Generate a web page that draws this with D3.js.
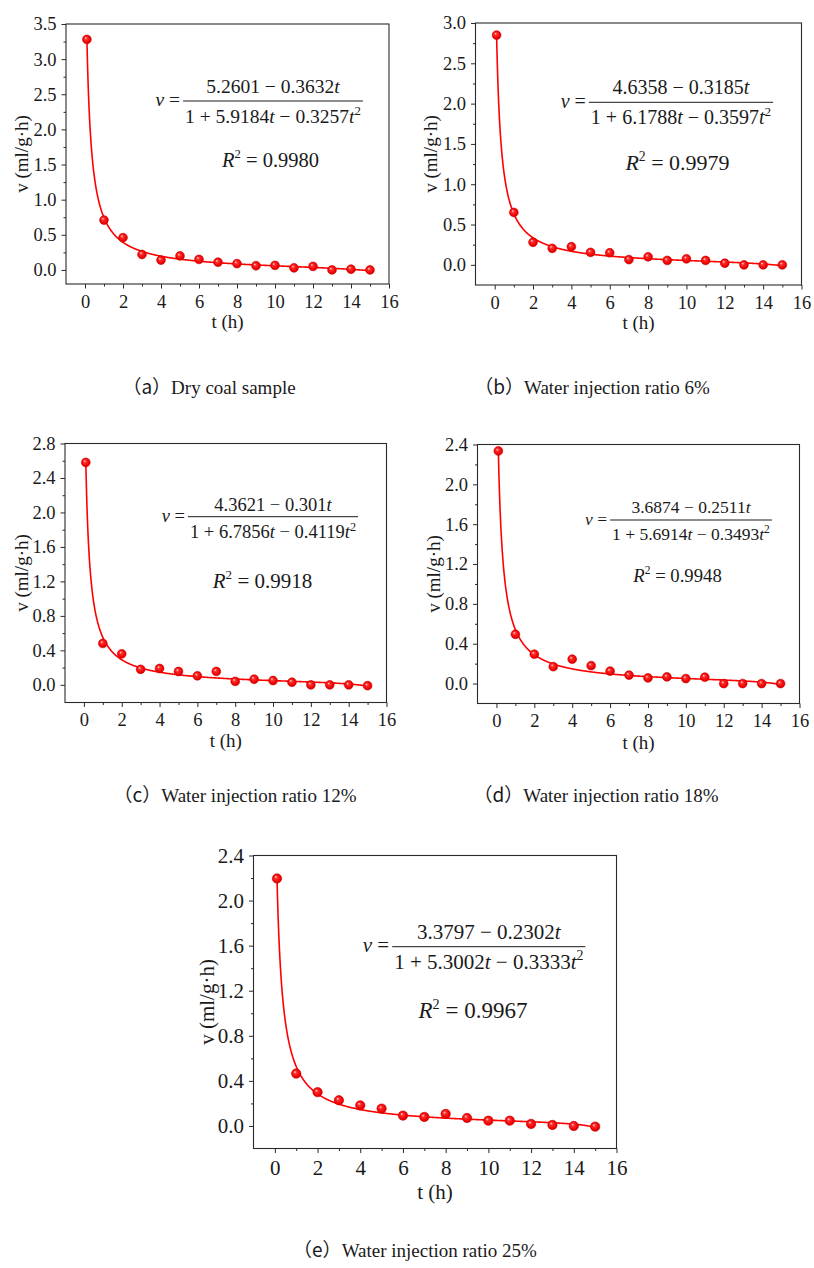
<!DOCTYPE html>
<html>
<head>
<meta charset="utf-8">
<script src="https://cdn.jsdelivr.net/npm/d3@7"></script>
<style>
  body { margin: 0; background: #fff; }
  svg text { font-family: 'Liberation Serif', 'Times New Roman', Times, serif; fill: #1a1a1a; }
  .cjk { font-family: 'Noto Sans CJK SC', sans-serif; }
</style>
</head>
<body>
<svg id="chart" width="814" height="1268"></svg>
<script>
// Sampling times (h)
const hours = [0.1, 1, 2, 3, 4, 5, 6, 7, 8, 9, 10, 11, 12, 13, 14, 15];

// Measured gas release rate v (ml/g·h)
const vDry = [3.28, 0.71, 0.46, 0.22, 0.14, 0.20, 0.15, 0.11, 0.09, 0.06, 0.065, 0.03, 0.05, 0.0, 0.01, 0.0];
const v6   = [2.85, 0.65, 0.28, 0.205, 0.225, 0.155, 0.15, 0.065, 0.10, 0.055, 0.075, 0.055, 0.02, 0.0, 0.0, 0.0];
const v12  = [2.58, 0.48, 0.36, 0.18, 0.19, 0.155, 0.105, 0.155, 0.04, 0.065, 0.05, 0.03, 0.0, 0.0, 0.0, -0.01];
const v18  = [2.335, 0.495, 0.295, 0.17, 0.245, 0.18, 0.125, 0.085, 0.057, 0.067, 0.05, 0.064, 0.0, 0.0, 0.0, 0.0];
const v25  = [2.196, 0.465, 0.30, 0.228, 0.183, 0.154, 0.092, 0.08, 0.107, 0.071, 0.047, 0.047, 0.018, 0.009, 0.0, -0.006];

// Fitted model v = (a - b t) / (1 + c t - d t^2): [a, b, c, d]
const fitDry = [5.2601, 0.3632, 5.9184, 0.3257];
const fit6   = [4.6358, 0.3185, 6.1788, 0.3597];
const fit12  = [4.3621, 0.301, 6.7856, 0.4119];
const fit18  = [3.6874, 0.2511, 5.6914, 0.3493];
const fit25  = [3.3797, 0.2302, 5.3002, 0.3333];

const r2Values = ["0.9980", "0.9979", "0.9918", "0.9948", "0.9967"];

const captions = [
  "（a）Dry coal sample",
  "（b）Water injection ratio 6%",
  "（c）Water injection ratio 12%",
  "（d）Water injection ratio 18%",
  "（e）Water injection ratio 25%"
];

const xTicks = [0, 2, 4, 6, 8, 10, 12, 14, 16];
const xMinor = [1, 3, 5, 7, 9, 11, 13, 15];
const xLabel = "t (h)";
const yLabel = "v (ml/g·h)";

// Panel layout
const panels = [
  { values: vDry, fit: fitDry, r2: r2Values[0], caption: captions[0],
    left: 66, top: 24, right: 389, bottom: 284, yMin: -0.2, yMax: 3.5, step: 0.5,
    tickFs: 18.5, titleFs: 19, yTitleX: -38, xTickDy: 24, xTitleDy: 44,
    eq: { cx: 207, by: 77, fs: 19.5, gn: 8, gd: 21.7, rcx: 204.5, rby: 142.7, rfs: 20.5 },
    cap: { x: 209, y: 394 }, r: 4.4 },
  { values: v6, fit: fit6, r2: r2Values[1], caption: captions[1],
    left: 475.5, top: 23, right: 801.5, bottom: 285, yMin: -0.25, yMax: 3.0, step: 0.5,
    tickFs: 18.5, titleFs: 19, yTitleX: -38.5, xTickDy: 24, xTitleDy: 44,
    eq: { cx: 205.5, by: 79.3, fs: 20, gn: 8, gd: 21.7, rcx: 202, rby: 147, rfs: 22 },
    cap: { x: 592, y: 394 }, r: 4.4 },
  { values: v12, fit: fit12, r2: r2Values[2], caption: captions[2],
    left: 65, top: 443.5, right: 386.5, bottom: 702.5, yMin: -0.205, yMax: 2.8, step: 0.4,
    tickFs: 18.5, titleFs: 19, yTitleX: -37, xTickDy: 23, xTitleDy: 44,
    eq: { cx: 208, by: 73.2, fs: 18.5, gn: 6, gd: 21.6, rcx: 197.5, rby: 144.8, rfs: 21 },
    cap: { x: 235, y: 802 }, r: 4.4 },
  { values: v18, fit: fit18, r2: r2Values[3], caption: captions[3],
    left: 477.5, top: 444.5, right: 799.5, bottom: 703.5, yMin: -0.2, yMax: 2.4, step: 0.4,
    tickFs: 18.5, titleFs: 19, yTitleX: -37.5, xTickDy: 23.5, xTitleDy: 45,
    eq: { cx: 213.5, by: 75.5, fs: 17.5, gn: 6.7, gd: 20, rcx: 200, rby: 137.2, rfs: 18.7 },
    cap: { x: 596, y: 802 }, r: 4.4 },
  { values: v25, fit: fit25, r2: r2Values[4], caption: captions[4],
    left: 253.5, top: 855.5, right: 616.5, bottom: 1148.5, yMin: -0.2, yMax: 2.4, step: 0.4,
    tickFs: 21, titleFs: 21, yTitleX: -40, xTickDy: 26, xTitleDy: 50,
    eq: { cx: 235.3, by: 91.2, fs: 21, gn: 7.4, gd: 22.6, rcx: 219.5, rby: 162.8, rfs: 23 },
    cap: { x: 415, y: 1257 }, r: 4.7 }
];

const serif = "'Liberation Serif', 'Times New Roman', Times, serif";
const svg = d3.select("#chart");
const defs = svg.append("defs");

// Shaded sphere marker fill
const grad = defs.append("radialGradient").attr("id", "ball")
  .attr("cx", "50%").attr("cy", "50%").attr("r", "55%")
  .attr("fx", "35%").attr("fy", "32%");
grad.append("stop").attr("offset", "0%").attr("stop-color", "#ffe2e2");
grad.append("stop").attr("offset", "28%").attr("stop-color", "#ff3030");
grad.append("stop").attr("offset", "75%").attr("stop-color", "#f00000");
grad.append("stop").attr("offset", "100%").attr("stop-color", "#b80000");

const model = (f, t) => (f[0] - f[1] * t) / (1 + f[2] * t - f[3] * t * t);

function drawEquation(g, p) {
  const e = p.eq, f = p.fit;
  const fs = e.fs;

  const num = g.append("text").attr("x", e.cx).attr("y", e.by - e.gn)
    .attr("text-anchor", "middle").style("font-size", fs + "px");
  num.append("tspan").text(`${f[0]} − ${f[1]}`);
  num.append("tspan").style("font-style", "italic").text("t");

  const den = g.append("text").attr("x", e.cx).attr("y", e.by + e.gd)
    .attr("text-anchor", "middle").style("font-size", fs + "px");
  den.append("tspan").text(`1 + ${f[2]}`);
  den.append("tspan").style("font-style", "italic").text("t");
  den.append("tspan").text(` − ${f[3]}`);
  den.append("tspan").style("font-style", "italic").text("t");
  den.append("tspan").attr("dy", -fs * 0.42).style("font-size", (fs * 0.66) + "px").text("2");

  const w = Math.max(num.node().getComputedTextLength(), den.node().getComputedTextLength()) + 4;
  g.append("line")
    .attr("x1", e.cx - w / 2).attr("x2", e.cx + w / 2)
    .attr("y1", e.by).attr("y2", e.by)
    .attr("stroke", "#1a1a1a").attr("stroke-width", 1);

  const lhs = g.append("text").attr("x", e.cx - w / 2 - 3).attr("y", e.by + fs * 0.27)
    .attr("text-anchor", "end").style("font-size", fs + "px");
  lhs.append("tspan").style("font-style", "italic").text("v");
  lhs.append("tspan").text(" =");

  const r2 = g.append("text").attr("x", e.rcx).attr("y", e.rby)
    .attr("text-anchor", "middle").style("font-size", e.rfs + "px");
  r2.append("tspan").style("font-style", "italic").text("R");
  r2.append("tspan").attr("dy", -e.rfs * 0.42).style("font-size", (e.rfs * 0.62) + "px").text("2");
  r2.append("tspan").attr("dy", e.rfs * 0.42).text(" = " + p.r2);
}

panels.forEach((p, i) => {
  const W = p.right - p.left, H = p.bottom - p.top;
  const g = svg.append("g").attr("transform", `translate(${p.left},${p.top})`);

  const x = d3.scaleLinear().domain([-1, 16]).range([0, W]);
  const y = d3.scaleLinear().domain([p.yMin, p.yMax]).range([H, 0]);

  const nMaj = Math.round(p.yMax / p.step);
  const yMajor = d3.range(0, nMaj + 1).map(k => +(k * p.step).toFixed(3));
  const yMinorT = d3.range(0, nMaj).map(k => +((k + 0.5) * p.step).toFixed(3));

  // axes (ticks outward)
  const yAx = g.append("g").call(d3.axisLeft(y).tickValues(yMajor).tickSize(4.5).tickPadding(5)
    .tickFormat(d3.format(".1f")));
  const yAxm = g.append("g").call(d3.axisLeft(y).tickValues(yMinorT).tickSize(2.5).tickFormat(""));
  const xAx = g.append("g").attr("transform", `translate(0,${H})`)
    .call(d3.axisBottom(x).tickValues(xTicks).tickSize(4.5).tickFormat(d3.format("d")));
  const xAxm = g.append("g").attr("transform", `translate(0,${H})`)
    .call(d3.axisBottom(x).tickValues(xMinor).tickSize(2.5).tickFormat(""));
  [yAx, yAxm, xAx, xAxm].forEach(a => {
    a.attr("font-family", null);
    a.select(".domain").remove();
    a.selectAll(".tick line").attr("stroke", "#2a2a2a").attr("stroke-width", 1);
    a.selectAll("text").style("font-size", p.tickFs + "px").attr("fill", "#1a1a1a")
      .style("font-family", serif);
  });
  xAx.selectAll("text").attr("dy", null).attr("y", p.xTickDy);

  // frame
  g.append("rect").attr("x", 0).attr("y", 0).attr("width", W).attr("height", H)
    .attr("fill", "none").attr("stroke", "#2a2a2a").attr("stroke-width", 1.1);

  // axis titles
  g.append("text").attr("x", W / 2).attr("y", H + p.xTitleDy)
    .attr("text-anchor", "middle").style("font-size", p.titleFs + "px").text(xLabel);
  g.append("text").attr("transform", `translate(${p.yTitleX},${H / 2}) rotate(-90)`)
    .attr("text-anchor", "middle").style("font-size", p.titleFs + "px").text(yLabel);

  // fitted curve
  const tCurve = d3.range(hours[0], hours[hours.length - 1] + 1e-9, 0.02);
  const line = d3.line().x(t => x(t)).y(t => y(model(p.fit, t)));
  g.append("path").datum(tCurve).attr("d", line)
    .attr("fill", "none").attr("stroke", "#ff0000").attr("stroke-width", 1.6);

  // measured points
  g.selectAll("circle.pt").data(hours.map((t, k) => [t, p.values[k]])).join("circle")
    .attr("class", "pt")
    .attr("cx", d => x(d[0])).attr("cy", d => y(d[1])).attr("r", p.r)
    .attr("fill", "url(#ball)").attr("stroke", "#d40000").attr("stroke-width", 0.6);

  drawEquation(g, p);

  // caption: full-width label in a CJK face, description in serif
  const cut = p.caption.indexOf("）") + 1;
  const cap = svg.append("text").attr("x", p.cap.x).attr("y", p.cap.y)
    .attr("text-anchor", "middle").style("font-size", "19px");
  cap.append("tspan").attr("class", "cjk").text(p.caption.slice(0, cut));
  cap.append("tspan").text(p.caption.slice(cut));
});
</script>
</body>
</html>
